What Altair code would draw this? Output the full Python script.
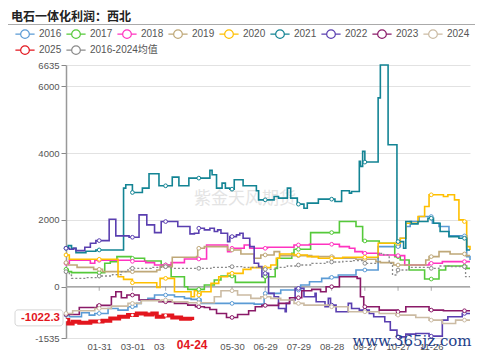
import altair as alt
import pandas as pd

W, H = 404, 273

YEARS = ["2016", "2017", "2018", "2019", "2020", "2021", "2022", "2023", "2024"]
YEAR_COLORS = ["#5b9bd5", "#55c93a", "#ff33c0", "#bfa878", "#ffbf00", "#138494", "#5a3fb0", "#8a1a68", "#cbbba3"]
EXTRA = ["2025", "2016-2024均值"]
EXTRA_COLORS = ["#e3161e", "#8a8a8a"]

TICK_DAYS = [30, 60, 90, 120, 150, 180, 210, 240, 270, 300, 330]
TICK_LABELS = ["01-31", "03-01", "03-31", "04-30", "05-30", "06-29", "07-29", "08-28", "09-27", "10-27", "11-26"]
Y_TICKS = [-1535, 0, 2000, 4000, 6000, 6635]
POINTER_DAY = 114
POINTER_DAY_LABEL = "04-24"
POINTER_VALUE = -1022.3

# (day of year, value) step points
S2016 = [(0, -850), (3, -900), (14, -780), (21, -850), (26, -800), (38, -650), (47, -700), (56, -600), (64, -500),
         (68, -400), (74, -350), (80, -250), (98, -300), (107, -350), (113, -380), (122, -500), (170, -520),
         (179, -200), (194, -100), (212, 50), (220, 150), (231, 250), (238, 280), (246, 350), (262, 500),
         (282, 1200), (302, 1450), (307, 1800), (311, 1950), (319, 2100), (331, 1900), (337, 1800), (346, 1520),
         (362, 900), (365, 800)]
S2017 = [(0, 520), (2, 450), (5, 420), (34, 420), (35, 700), (40, 750), (46, 900), (59, 850), (71, 770), (86, 650),
         (95, 300), (107, 0), (110, -80), (125, 50), (134, 200), (140, 320), (153, 130), (176, 130), (180, 300),
         (189, 550), (191, 850), (204, 1000), (206, 1120), (219, 1120), (221, 1620), (247, 1950), (262, 1800),
         (268, 1370), (283, 1300), (297, 900), (302, 800), (310, 500), (324, 230), (337, 500), (343, 620),
         (362, 550), (365, 550)]
S2018 = [(0, 700), (3, 790), (22, 700), (26, 790), (60, 760), (72, 720), (80, 650), (95, 720), (107, 830),
         (127, 1250), (146, 1050), (149, 1150), (161, 1250), (166, 1150), (182, 1180), (206, 1250), (220, 1270),
         (247, 1200), (256, 1150), (261, 1050), (268, 1000), (283, 950), (297, 930), (306, 650), (328, 700),
         (340, 750), (365, 750)]
S2019 = [(0, 720), (2, 650), (10, 580), (25, 520), (33, 450), (60, 450), (82, 500), (85, 600), (96, 880),
         (118, 900), (119, 1150), (125, 1200), (140, 1200), (146, 1100), (158, 980), (170, 850), (176, 950),
         (188, 1050), (193, 930), (222, 900), (242, 850), (262, 820), (280, 750), (284, 720), (296, 650),
         (325, 800), (328, 900), (337, 1050), (347, 980), (361, 930), (365, 930)]
S2020 = [(0, 950), (3, 820), (46, 820), (47, 300), (52, 220), (60, 120), (82, -20), (85, 250), (97, 250),
         (98, -150), (112, -150), (113, -300), (116, -120), (119, -250), (122, -150), (131, 100), (138, 300),
         (146, 400), (160, 520), (167, 570), (185, 650), (190, 850), (193, 980), (206, 950), (218, 900),
         (228, 850), (250, 880), (282, 1300), (302, 1450), (307, 1900), (318, 2100), (324, 2400), (328, 2750),
         (341, 2700), (345, 2750), (351, 2600), (355, 2000), (359, 1950), (362, 1200), (365, 1100)]
S2021 = [(0, 1150), (2, 1230), (5, 1150), (9, 1020), (18, 1060), (27, 1100), (52, 2950), (54, 3050), (60, 2820),
         (69, 2950), (75, 3380), (84, 3020), (96, 3280), (102, 3020), (111, 3250), (130, 3480), (132, 3350),
         (136, 2950), (141, 3100), (144, 2950), (148, 2920), (152, 3200), (160, 3020), (172, 2870), (174, 2600),
         (188, 2700), (192, 2650), (200, 2950), (203, 2650), (209, 2470), (215, 2350), (218, 2500), (228, 2620),
         (243, 2550), (249, 2870), (256, 2800), (258, 2850), (265, 3750), (266, 3600), (268, 4050), (270, 3730),
         (282, 5650), (284, 6635), (291, 4250), (299, 1350), (305, 1150), (307, 1950), (312, 1880), (318, 1950),
         (327, 2050), (332, 1900), (338, 1650), (346, 1500), (355, 1450), (362, 1100), (365, 1100)]
S2022 = [(0, 1150), (3, 1120), (7, 1150), (9, 1080), (17, 1180), (22, 1300), (27, 1380), (39, 2020), (45, 1520),
         (57, 1480), (66, 2150), (73, 1850), (80, 1620), (86, 1950), (101, 1800), (112, 1580), (116, 1600),
         (120, 1750), (125, 1700), (130, 1750), (134, 1650), (137, 1700), (140, 1600), (146, 1350), (148, 1500),
         (154, 1550), (157, 1600), (160, 1450), (166, 1200), (170, 700), (174, 600), (177, 300), (180, 400),
         (183, -200), (188, -300), (192, -650), (198, -750), (199, -500), (202, -400), (207, -50), (215, -300),
         (225, -200), (226, -450), (234, -600), (237, -350), (239, -550), (244, -750), (255, -500), (258, -650),
         (265, -700), (274, -800), (278, -900), (288, -1050), (293, -1300), (299, -1500), (307, -1420),
         (316, -1400), (328, -1480), (340, -1000), (345, -900), (358, -800), (365, -800)]
S2023 = [(0, -830), (12, -620), (28, -560), (41, -300), (45, -150), (50, -330), (55, -250), (66, -400), (84, -450),
         (98, -500), (110, -550), (117, -600), (125, -620), (130, -680), (136, -800), (145, -920), (155, -830),
         (165, -720), (171, -600), (177, -560), (192, -500), (202, -330), (213, -120), (222, -80), (230, -150),
         (235, 0), (247, 300), (263, 250), (266, -300), (269, -600), (283, -700), (300, -750), (307, -600),
         (328, -700), (341, -720), (365, -720)]
S2024 = [(0, -800), (6, -720), (26, -650), (41, -580), (56, -500), (68, -420), (86, -400), (96, -450), (110, -480),
         (134, -300), (140, -120), (155, -250), (167, -350), (176, -300), (185, -350), (194, -400), (206, -500),
         (215, -550), (240, -600), (255, -750), (283, -800), (298, -850), (316, -920), (328, -1000), (340, -1100),
         (352, -1000), (365, -1000)]
S2025 = [(0, -1000), (2, -1100), (6, -1050), (12, -1080), (22, -1040), (33, -1020), (40, -950), (48, -900),
         (56, -850), (64, -800), (72, -830), (78, -800), (82, -900), (88, -860), (96, -920), (104, -960),
         (114, -1000)]
SAVG = [(0, 450), (3, 350), (5, 250), (18, 270), (30, 320), (42, 360), (50, 450), (56, 550), (77, 580), (86, 600),
        (95, 550), (120, 550), (131, 580), (146, 600), (161, 580), (176, 520), (190, 580), (200, 620), (210, 650),
        (222, 700), (235, 740), (250, 760), (258, 780), (270, 700), (282, 1000), (287, 950), (292, 700),
        (295, 350), (299, 500), (310, 580), (328, 550), (337, 620), (346, 600), (361, 300), (365, 300)]

DATA = {"2016": S2016, "2017": S2017, "2018": S2018, "2019": S2019, "2020": S2020, "2021": S2021,
        "2022": S2022, "2023": S2023, "2024": S2024, "2025": S2025, "2016-2024均值": SAVG}


def step_value(pts, d):
    v = pts[0][1]
    for dd, vv in pts:
        if dd <= d:
            v = vv
        else:
            break
    return v


rows, mrows = [], []
for name, pts in DATA.items():
    for d, v in pts:
        rows.append({"series": name, "day": d, "value": v})
    last = pts[-1][0]
    for d in range(0, 361, 30):
        if d <= last:
            mrows.append({"series": name, "day": d, "value": step_value(pts, d)})
df = pd.DataFrame(rows)
mdf = pd.DataFrame(mrows)
tick_df = pd.DataFrame({"day": TICK_DAYS, "value": [0] * len(TICK_DAYS)})
zero_df = pd.DataFrame({"day": [0], "value": [0]})
ptr_df = pd.DataFrame({"day": [POINTER_DAY], "value": [POINTER_VALUE],
                       "dlabel": [POINTER_DAY_LABEL], "vlabel": [f"{POINTER_VALUE}"]})
one = pd.DataFrame({"k": [0]})

FONT = "Liberation Sans, Noto Sans CJK SC"
XS = alt.Scale(domain=[0, 365], nice=False, zero=False)
YS = alt.Scale(domain=[-1535, 6635], nice=False, zero=False)

label_expr = " : ".join(f"datum.value == {d} ? '{l}'" for d, l in zip(TICK_DAYS, TICK_LABELS)) + " : ''"

XAX = alt.Axis(values=TICK_DAYS, labelExpr=label_expr, domain=False, ticks=False, tickSize=0, grid=False,
               labelFontSize=9.5, labelColor="#555", labelFont=FONT, labelPadding=3, labelOverlap=False, title=None)
YAX = alt.Axis(values=Y_TICKS, labelExpr="datum.value + ''", grid=True, gridColor="#e2e2e2", domainColor="#999",
               domainWidth=1.5, tickColor="#888", tickSize=5, labelFontSize=9.5, labelColor="#555", labelFont=FONT,
               labelPadding=2, labelOverlap=False, title=None)
X_ENC = alt.X("day:Q", scale=XS, axis=XAX)
Y_ENC = alt.Y("value:Q", scale=YS, axis=YAX)

SYMBOL = "M-1.2,0L-0.54,0M0.54,0L1.2,0M0.54,0A0.54,0.54,0,1,1,-0.54,0A0.54,0.54,0,1,1,0.54,0"


def legend(y):
    return alt.Legend(orient="none", legendX=-50, legendY=y, direction="horizontal", columns=9, title=None,
                      symbolType=SYMBOL, symbolSize=256, symbolStrokeWidth=1.2, labelFontSize=10,
                      labelColor="#555", labelFont=FONT, labelOffset=5, columnPadding=2, rowPadding=1, padding=0)


COLOR = alt.Color("series:N", scale=alt.Scale(domain=YEARS, range=YEAR_COLORS), legend=legend(-40))
STROKE = alt.Stroke("series:N", scale=alt.Scale(domain=EXTRA, range=EXTRA_COLORS), legend=legend(-24))

watermark = alt.Chart(one).mark_text(text="紫金天风期货", font="Noto Sans CJK SC", fontSize=17, color="#e4e4e4",
                                     align="center", baseline="middle").encode(x=alt.value(179), y=alt.value(134))

grid_zero = alt.Chart(zero_df).mark_rule(color="#a8a8a8", strokeWidth=1.5).encode(y=Y_ENC)
zero_ticks = alt.Chart(tick_df).mark_tick(orient="vertical", size=4, thickness=1, color="#888", yOffset=2).encode(
    x=X_ENC, y=Y_ENC)

lines = alt.Chart(df[df.series.isin(YEARS)]).mark_line(interpolate="step-after", strokeWidth=1.6).encode(
    x=X_ENC, y=Y_ENC, color=COLOR)
avg = alt.Chart(df[df.series == "2016-2024均值"]).mark_line(interpolate="step-after", strokeWidth=1.3,
                                                             strokeDash=[2, 2]).encode(x=X_ENC, y=Y_ENC, stroke=STROKE)
markers = alt.Chart(mdf[mdf.series.isin(YEARS)]).mark_point(filled=False, fill="white", fillOpacity=1, size=14,
                                                             strokeWidth=1, opacity=1).encode(
    x=X_ENC, y=Y_ENC, color=COLOR)
avg_markers = alt.Chart(mdf[mdf.series == "2016-2024均值"]).mark_point(filled=False, fill="white", fillOpacity=1,
                                                                        size=14, strokeWidth=1, opacity=1).encode(
    x=X_ENC, y=Y_ENC, stroke=STROKE)
cur = alt.Chart(df[df.series == "2025"]).mark_line(interpolate="step-after", strokeWidth=4).encode(
    x=X_ENC, y=Y_ENC, stroke=STROKE)
cur_markers = alt.Chart(mdf[mdf.series == "2025"]).mark_point(filled=True, fill="white", size=8, opacity=1,
                                                              strokeWidth=0).encode(x=X_ENC, y=Y_ENC)

ybox = alt.Chart(ptr_df).mark_rect(fill="white", stroke="#d6d6d6", strokeWidth=1, cornerRadius=3,
                                   yOffset=-11, y2Offset=5).encode(
    x=alt.value(-51), x2=alt.value(-3), y=Y_ENC, y2="value:Q")
ytext = alt.Chart(ptr_df).mark_text(align="right", baseline="middle", fontSize=11.5, fontWeight="bold",
                                    color="#e3161e", font=FONT, yOffset=-3).encode(
    x=alt.value(-6), y=Y_ENC, text="vlabel:N")
xbox = alt.Chart(ptr_df).mark_rect(fill="white", xOffset=-27, x2Offset=27).encode(
    x=X_ENC, x2="day:Q", y=alt.value(H + 1), y2=alt.value(H + 20))
xtext = alt.Chart(ptr_df).mark_text(align="center", baseline="middle", fontSize=12, fontWeight="bold",
                                    color="#e3161e", font=FONT).encode(
    x=X_ENC, y=alt.value(H + 7), text="dlabel:N")

title = alt.Chart(one).mark_text(text="电石一体化利润：西北", align="left", baseline="middle", fontSize=12,
                                 fontWeight="bold", color="#222", font="Noto Sans CJK SC").encode(
    x=alt.value(-55), y=alt.value(-48))
sep = alt.Chart(one).mark_rule(color="#aaaaaa", strokeWidth=1).encode(
    x=alt.value(-62), x2=alt.value(409), y=alt.value(-40.5))
site = alt.Chart(one).mark_text(text="www.365jz.com", align="center", baseline="middle", fontSize=15,
                                color="#1d3e8a", font="DejaVu Serif").encode(x=alt.value(346), y=alt.value(276))

chart = alt.layer(watermark, grid_zero, zero_ticks, lines, avg, markers, avg_markers, cur, cur_markers,
                  xbox, xtext, ybox, ytext, title, sep, site).properties(
    width=W, height=H, autosize=alt.AutoSizeParams(type="none"),
    padding={"left": 58, "top": 57, "right": 5, "bottom": 13}
).configure_view(stroke=None)

chart.save("out.html", embed_options={"renderer": "svg", "actions": False})
